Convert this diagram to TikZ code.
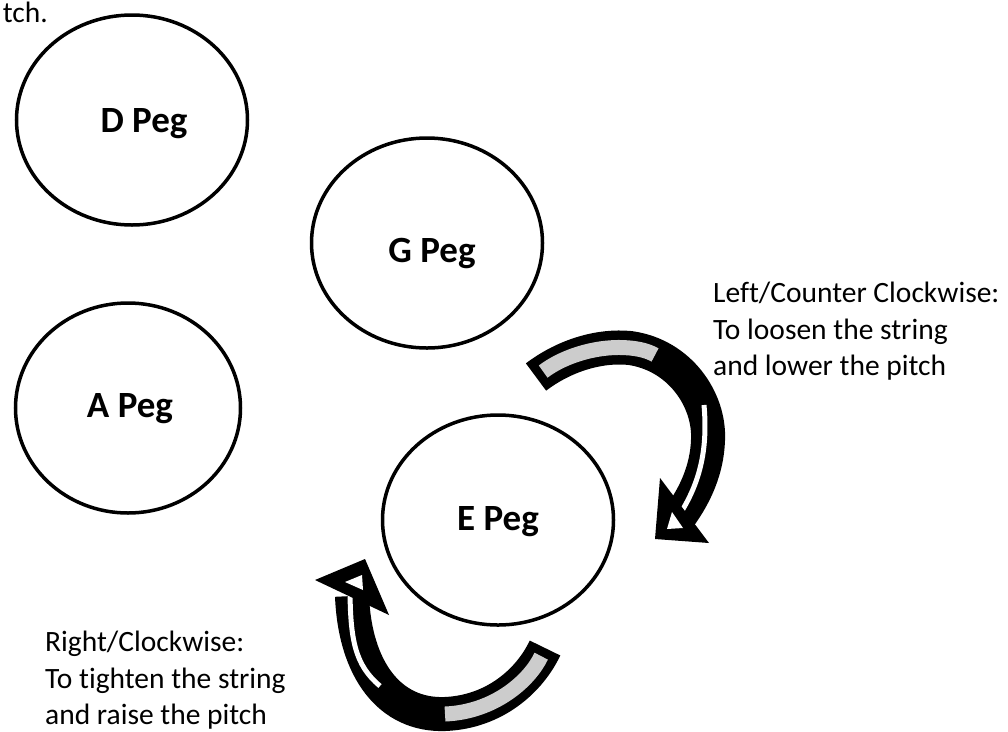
\documentclass[tikz,border=0pt]{standalone}
\usepackage{fontspec}
\setmainfont{Carlito}[Ligatures=NoCommon]
\usetikzlibrary{shapes.geometric}
\tikzset{
	pegnode/.style={draw,ellipse,line width=3.5pt,inner sep=0pt,minimum width=231pt,minimum height=210pt},
	peglabel/.style={inner sep=0pt,font=\bfseries\fontsize{37}{42}\selectfont},
	note/.style={align=left,inner sep=0pt,font=\fontsize{29.5}{36.5}\selectfont},
	bandout/.style={draw=black,line width=34pt},
	bandgray/.style={draw=black!20,line width=15pt},
	bandwhite/.style={draw=white,line width=5pt}
}
\begin{document}
\begin{tikzpicture}[x=1pt,y=-1pt]
	\useasboundingbox (0,0) rectangle (1008,731);
	\node[note,anchor=base east] (pitchfrag) at (48,22) {tch.};
	\node[pegnode,label={[peglabel,xshift=12pt,yshift=-4pt]center:D Peg}] (dpeg) at (132,120) {};
	\node[pegnode,label={[peglabel,xshift=5pt,yshift=-10pt]center:G Peg}] (gpeg) at (427,243) {};
	\node[pegnode,minimum width=225pt,label={[peglabel,xshift=2pt,yshift=-1pt]center:A Peg}] (apeg) at (128,408) {};
	\node[pegnode,label={[peglabel,yshift=-2pt]center:E Peg}] (epeg) at (498,520) {};
	\node[note,anchor=north west] (loosen) at (713,282) {Left/Counter Clockwise:\\To loosen the string\\and lower the pitch};
	\node[note,anchor=north west] (tighten) at (45,631) {Right/Clockwise:\\To tighten the string\\and raise the pitch};
	\draw[bandout] (536,377) .. controls (565,355) and (600,345) .. (630,348)
		.. controls (680,355) and (710,400) .. (708,440)
		.. controls (707,470) and (695,495) .. (680,516);
	\draw[bandgray,shorten <=9pt] (536,377) .. controls (565,355) and (600,345) .. (630,348)
		.. controls (640,349) and (648,351) .. (655,355);
	\draw[bandwhite] (704,405) .. controls (708,450) and (700,485) .. (676,520);
	\fill (660,478) -- (655,539) -- (709,543) -- cycle;
	\fill[white] (672,512) -- (667,529) -- (683,528) -- cycle;
	\draw[bandout] (545,648) .. controls (530,680) and (495,712) .. (445,714)
		.. controls (390,716) and (355,670) .. (352,596);
	\draw[bandgray,shorten <=9pt] (545,648) .. controls (530,680) and (495,712) .. (445,714);
	\draw[bandwhite] (380,686) .. controls (355,665) and (350,640) .. (350,586);
	\fill (315,580) -- (365,559) -- (389,615) -- cycle;
	\fill[white] (345,582) -- (362,575) -- (363,590) -- cycle;
\end{tikzpicture}
\end{document}
